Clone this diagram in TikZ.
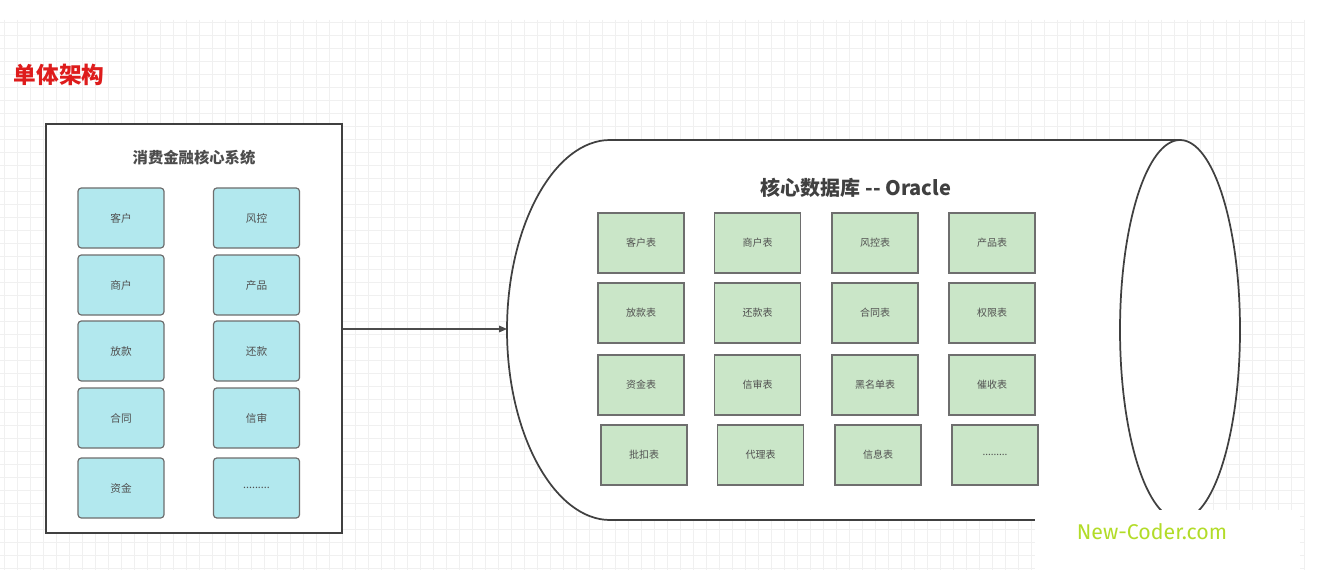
\documentclass[tikz,border=0pt]{standalone}
\usepackage{fontspec}
\setmainfont{Noto Sans CJK SC}
\newfontfamily\wmfont{Fira Sans}
\usetikzlibrary{arrows.meta}
\definecolor{cyanfill}{RGB}{178,232,238}
\definecolor{greenfill}{RGB}{202,230,200}
\definecolor{boxline}{RGB}{110,110,110}
\definecolor{txtgray}{RGB}{80,80,80}
\definecolor{titlered}{RGB}{222,28,28}
\definecolor{wmgreen}{RGB}{178,220,40}
\definecolor{gridc}{RGB}{240,240,240}
\tikzset{
  modbox/.style={draw=boxline, line width=0.9pt, fill=cyanfill, rounded corners=2.5pt,
    minimum width=64.5pt, minimum height=45pt, inner sep=0pt,
    font=\fontsize{8}{9}\selectfont, text=txtgray},
  tabbox/.style={draw=boxline, line width=0.9pt, fill=greenfill,
    minimum width=64.5pt, minimum height=45pt, inner sep=0pt,
    font=\fontsize{7.5}{9}\selectfont, text=txtgray},
  gridline/.style={draw=gridc, line width=0.5pt},
  outline/.style={draw=black!75, line width=1.3pt},
  conn/.style={draw=black!70, line width=0.8pt, -{Triangle[length=6pt,width=5pt]}}
}
\begin{document}
\begin{tikzpicture}[x=0.75pt,y=-0.75pt]
\useasboundingbox (0,0) rectangle (1330,570);
\fill[white] (0,0) rectangle (1330,570);
% grid
\foreach \gx in {4,17,...,1305} \draw[gridline] (\gx,20) -- (\gx,570);
\foreach \gy in {22,35,...,570} \draw[gridline] (0,\gy) -- (1305,\gy);

% title
\node[font=\fontsize{17}{19}\selectfont\bfseries, text=titlered] (title) at (59,75) {单体架构};

% left system box
\node[outline, fill=white, minimum width=222pt, minimum height=306.75pt, inner sep=0pt] (sys) at (194,328.5) {};
\node[font=\fontsize{11.5}{13}\selectfont\bfseries, text=black!70] (systitle) at (194,158) {消费金融核心系统};

\node[modbox] (m1) at (121,218) {客户};
\node[modbox] (m2) at (256.5,218) {风控};
\node[modbox] (m3) at (121,285) {商户};
\node[modbox] (m4) at (256.5,285) {产品};
\node[modbox] (m5) at (121,351) {放款};
\node[modbox] (m6) at (256.5,351) {还款};
\node[modbox] (m7) at (121,418) {合同};
\node[modbox] (m8) at (256.5,418) {信审};
\node[modbox] (m9) at (121,488) {资金};
\node[modbox] (m10) at (256.5,488) {.........};

% database cylinder
\draw[outline, fill=white] (610,140) -- (1180,140) -- (1180,520) -- (610,520)
  .. controls (554.8,520) and (507,434.9) .. (507,330)
  .. controls (507,225.1) and (554.8,140) .. (610,140) -- cycle;
\draw[outline, fill=white] (1180,330) ellipse [x radius=60, y radius=190];
\coordinate (dbleft) at (507,329);
\node[font=\fontsize{15}{17}\selectfont\bfseries, text=black!75] (dbtitle) at (856,188) {核心数据库 {-}{-} Oracle};

\node[tabbox] (t1) at (641,243) {客户表};
\node[tabbox] (t2) at (757.5,243) {商户表};
\node[tabbox] (t3) at (875,243) {风控表};
\node[tabbox] (t4) at (992,243) {产品表};
\node[tabbox] (t5) at (641,313) {放款表};
\node[tabbox] (t6) at (757.5,313) {还款表};
\node[tabbox] (t7) at (875,313) {合同表};
\node[tabbox] (t8) at (992,313) {权限表};
\node[tabbox] (t9) at (641,385) {资金表};
\node[tabbox] (t10) at (757.5,385) {信审表};
\node[tabbox] (t11) at (875,385) {黑名单表};
\node[tabbox] (t12) at (992,385) {催收表};
\node[tabbox] (t13) at (644,455) {批扣表};
\node[tabbox] (t14) at (760.5,455) {代理表};
\node[tabbox] (t15) at (878,455) {信息表};
\node[tabbox] (t16) at (995,455) {.........};

% connector
\draw[conn] (sys.east |- dbleft) -- (dbleft);

% watermark
\fill[white] (1035,510) rectangle (1300,570);
\node[font=\wmfont\fontsize{16}{18}\selectfont, text=wmgreen] (wm) at (1152,532) {New-Coder.com};
\end{tikzpicture}
\end{document}
